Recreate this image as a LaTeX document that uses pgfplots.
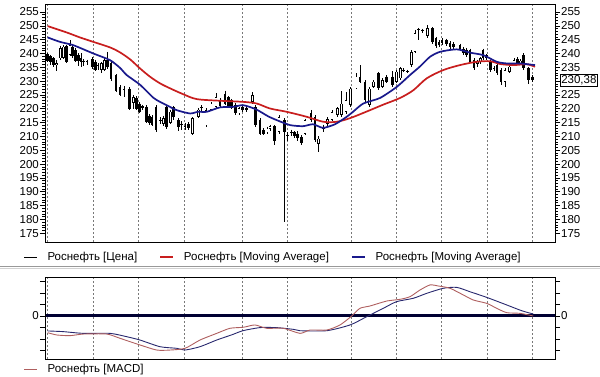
\documentclass[border=0pt]{standalone}
\usepackage{fontspec}
\setmainfont{Liberation Sans}
\usepackage{pgfplots}
\usepackage{pgfplotstable}
\pgfplotsset{compat=1.18}
\definecolor{maRed}{RGB}{200,30,30}
\definecolor{maBlue}{RGB}{25,25,140}
\definecolor{macdC}{RGB}{175,95,95}
\definecolor{sigC}{RGB}{40,40,110}
\definecolor{zeroC}{RGB}{0,0,50}
\definecolor{gridC}{RGB}{120,120,120}

\pgfplotstableread{
x h l t b d
47.7 240.3 236.8 239.7 237.3 0
50.5 239.5 236.0 239.0 237.0 0
53.2 238.6 235.0 238.2 235.8 0
56.7 237.5 233.5 236.5 235.8 1
60.5 242.8 237.8 242.0 238.2 1
63.5 243.0 238.0 242.5 238.5 1
66.5 243.2 236.5 242.6 237.0 0
70.0 244.7 239.0 243.0 239.4 1
72.8 243.5 238.5 242.5 239.2 0
75.5 242.0 237.0 241.2 237.4 0
78.5 240.0 235.6 239.4 237.4 0
81.0 240.0 235.2 238.2 237.0 0
83.8 238.0 235.3 237.4 237.0 0
87.0 237.8 236.0 237.2 236.9 1
92.7 238.6 234.5 238.0 235.0 0
95.3 237.8 233.5 237.0 234.0 0
98.0 236.4 234.2 235.8 235.4 0
101.7 237.0 232.8 236.6 234.0 1
104.8 238.3 233.6 237.6 234.0 1
107.7 240.6 234.3 237.6 235.0 0
110.9 237.0 230.0 236.4 230.6 0
116.0 232.5 226.0 232.2 226.5 0
120.0 228.5 224.5 228.0 225.0 0
124.0 228.3 224.3 227.2 226.8 1
129.3 227.8 219.5 227.3 220.0 0
133.3 225.0 219.8 224.1 222.1 1
136.2 224.5 219.5 224.0 220.0 0
139.2 222.5 218.5 221.9 219.0 0
142.7 221.5 219.5 220.9 220.4 0
146.5 221.2 214.8 220.7 215.3 0
149.2 218.0 214.3 217.5 215.0 0
152.0 217.6 213.6 217.1 214.0 0
156.0 221.2 211.5 220.7 212.2 0
160.5 217.0 214.5 216.0 215.6 1
163.6 217.5 213.8 216.5 214.5 1
166.6 221.0 212.8 220.7 213.3 0
170.5 219.6 214.5 219.0 215.0 1
173.6 221.0 216.0 220.5 217.0 0
178.3 216.6 212.0 215.8 213.3 0
181.7 215.5 212.5 214.4 214.0 0
185.0 215.0 212.2 213.8 213.4 1
188.3 215.2 212.5 214.5 213.0 0
192.3 217.0 210.6 216.5 211.0 1
198.3 220.3 216.7 219.7 217.1 1
201.2 221.2 219.2 220.6 220.2 1
206.0 220.2 213.5 219.5 214.0 1
211.0 222.5 219.2 221.9 219.7 1
216.0 225.7 220.2 224.3 220.7 1
220.0 223.8 220.4 223.2 221.0 0
225.0 226.6 221.4 225.5 221.9 0
228.4 224.6 220.5 224.2 221.0 0
231.8 223.6 219.8 223.0 220.3 0
235.4 222.0 217.8 221.3 218.3 0
239.0 220.8 217.6 220.1 218.3 1
242.2 221.5 219.0 220.8 219.6 0
246.7 221.0 218.8 220.3 219.4 0
252.3 226.0 221.8 224.9 222.5 1
255.7 221.2 213.5 220.7 214.0 0
260.0 216.5 210.5 215.9 211.0 0
263.8 213.0 210.5 212.4 211.0 0
266.9 213.5 211.0 212.8 211.5 1
270.0 214.3 212.0 213.7 212.6 1
274.3 214.2 207.0 213.7 208.5 0
279.0 217.6 211.0 217.1 211.6 1
284.3 216.5 178.9 215.9 211.6 0
287.7 211.5 208.5 210.6 210.2 0
291.5 212.5 210.0 211.5 211.1 1
294.6 212.0 209.6 211.5 210.0 0
297.8 211.8 208.5 211.0 209.3 0
301.7 210.5 206.8 209.8 207.7 0
305.0 216.4 210.6 215.9 211.0 1
311.0 219.6 215.2 218.3 215.9 0
315.0 217.6 208.1 217.1 208.6 0
318.3 210.0 204.4 209.2 207.4 1
323.3 214.3 211.6 213.2 212.8 1
327.7 217.0 213.5 216.2 214.5 1
332.0 219.5 215.5 218.9 215.9 1
337.3 220.6 217.2 220.1 217.7 1
341.7 226.3 217.2 221.9 217.7 1
346.0 226.0 218.0 223.0 219.0 1
350.7 227.8 220.8 227.3 221.3 1
356.0 232.8 227.0 231.6 227.4 1
360.0 235.8 229.3 231.6 229.8 0
365.0 230.3 222.6 229.8 223.1 0
369.3 227.8 220.8 227.3 221.3 1
373.3 230.3 227.5 229.8 228.0 1
378.3 233.3 226.9 232.8 227.4 0
382.7 231.0 227.5 230.4 228.0 1
386.7 232.2 229.3 231.6 229.8 0
392.7 233.5 228.0 231.6 228.6 0
396.7 234.0 229.3 233.4 229.8 1
400.2 235.2 230.5 234.6 231.0 1
403.6 234.6 233.4 234.1 233.8 1
407.3 234.2 232.8 233.6 233.3 0
411.3 241.2 235.2 240.6 235.8 1
415.0 248.5 240.0 247.3 240.6 1
418.6 249.3 245.0 248.8 248.5 1
422.2 249.0 247.5 248.5 248.0 0
427.6 250.3 245.6 249.2 246.3 1
432.7 249.6 243.5 249.1 244.2 0
436.0 246.0 242.0 245.6 242.8 0
439.0 244.8 242.4 244.2 243.0 0
442.0 245.5 243.0 244.9 243.7 0
446.7 245.4 242.8 244.7 243.3 0
450.0 244.5 241.8 243.9 242.3 0
453.5 244.0 241.4 243.4 242.2 0
460.0 243.6 241.2 243.0 241.8 0
463.3 242.4 239.4 241.8 240.0 0
466.7 242.0 238.6 241.4 239.3 0
470.0 241.8 236.5 241.2 237.0 0
474.0 238.2 234.0 237.6 234.6 0
477.3 237.8 235.2 237.2 236.2 1
480.2 238.8 236.3 238.2 236.8 1
483.0 241.8 237.6 241.2 238.2 0
486.7 239.8 237.6 239.3 238.2 0
490.7 237.6 233.4 237.0 234.0 0
494.0 235.5 233.6 234.7 234.3 0
497.0 236.4 232.2 235.8 232.8 0
501.0 234.6 228.5 234.0 229.8 0
505.0 234.6 228.0 234.0 229.8 1
509.3 235.8 232.8 235.2 233.4 1
514.0 238.2 235.8 237.6 236.4 1
517.3 238.6 236.0 237.9 236.4 0
520.4 238.0 235.8 237.4 236.4 1
523.6 240.0 234.0 239.4 234.6 0
528.3 235.2 229.0 234.6 230.4 0
532.7 232.2 229.8 231.6 230.38 0
}\candles

\pgfplotstableread{
x y
47.7 249.9
66.7 247.6
80 245.8
93.3 244.2
110 242.2
120 240.4
130 237.9
140 234.6
150 231.6
160 229.2
170 227.4
183 225.3
196.7 223.5
220 222.9
243 222.5
256.7 221.9
270 220.1
286.7 218.9
306.7 217.1
323.3 215.3
336.7 215.3
350 216.6
366.7 219.0
383.3 221.5
400 223.9
413.3 226.7
426.7 231.0
443.3 234.0
460 235.8
476.7 237.0
490 237.2
500 236.2
513.3 235.8
526.7 236.1
535 235.2
}\maslow

\pgfplotstableread{
x y
47.7 245.8
60 244.2
73.3 243.0
93.3 240.0
110 237.6
120 234.8
126.7 232.2
140 228.7
153.3 224.0
160 222.5
166.7 221.3
176.7 219.5
190 218.3
198 218.9
206.7 218.9
220 220.5
233.3 220.7
243.3 221.3
256 219.8
268 217.3
276.7 215.9
290 214.1
303 213.7
313 214.4
323 213.1
335 214.4
346.7 217.1
353 218.9
363.3 221.9
380 223.9
396.7 227.9
410 232.2
420 235.3
430 238.8
440 240.6
456.7 241.5
470 240.3
483.3 239.4
496.7 237.0
506.7 236.4
520 236.4
535 235.8
}\mafast

\pgfplotstableread{
x y
47.7 -1.30
63.3 -1.36
83.3 -1.51
110 -1.51
126.7 -1.80
140 -2.09
160 -2.67
176.7 -2.81
185 -2.96
200 -2.67
216.7 -2.09
233.3 -1.59
242.7 -1.28
260 -1.01
276.7 -1.01
293.3 -1.16
300 -1.28
326.7 -1.28
350 -0.78
366.7 -0.06
383.3 0.67
396.7 1.25
413.3 1.54
426.7 1.97
443.3 2.41
456.7 2.49
470 2.11
486.7 1.62
506.7 0.96
521.7 0.46
533.3 0.17
}\signal

\pgfplotstableread{
x y
47.7 -1.45
56.7 -1.65
70 -1.71
83.3 -1.57
106.7 -1.57
120 -1.94
140 -2.52
156.7 -2.96
170 -2.96
185 -2.81
200 -2.09
216.7 -1.51
230 -1.07
243.3 -0.98
255 -0.78
266.7 -1.07
283.3 -1.07
300 -1.51
310 -1.22
326.7 -1.22
340 -0.78
351.7 0.00
360 0.67
370 0.87
386.7 1.30
400 1.45
410 1.68
420 2.26
430 2.70
438.3 2.61
450 2.41
463.3 1.83
473.3 1.39
486.7 1.10
496.7 0.67
506.7 0.29
520 0.23
533.3 0.00
}\macd

\pgfplotsset{
  base/.style={
    scale only axis, width=510pt, xmin=45, xmax=555,
    axis line style={line width=0.8pt},
    tick align=outside,
    xtick={47.7,93.3,138.3,184.3,242.7,287.7,351.7,396.7,441.7,487.7,532.7},
    xticklabels={}, xtick style={draw=none},
    ytick style={black, line width=0.6pt},
    major tick length=5pt, minor tick length=2.5pt,
    tick label style={font=\fontsize{11.5}{11.5}\selectfont, inner sep=1pt},
    /pgf/number format/assume math mode=true,
  },
  grids/.style={xmajorgrids,
    grid style={gridC, dash pattern=on 2pt off 2pt, line width=0.6pt}},
  mainy/.style={height=238pt, ymin=171.8, ymax=257.9,
    ytick={175,180,...,255}, minor y tick num=4},
  macdy/.style={height=82pt, ymin=-3.74, ymax=3.39,
    ytick={-3,-2,-1,0,1,2,3}, yticklabels={,,,0,,,}},
  legstyle/.style={legend style={draw=none, fill=none, anchor=west,
      legend columns=3, font=\fontsize{11.5}{12}\selectfont,
      /tikz/every odd column/.append style={column sep=8pt},
      /tikz/every even column/.append style={column sep=20pt}},
    legend image code/.code={\draw[##1] (0pt,0pt) -- (13pt,0pt);}},
  wick/.style 2 args={forget plot, mark=none, draw=none,
    error bars/.cd, y dir=minus, y explicit, error mark=none,
    error bar style={draw=#1, line width=#2}},
}

\begin{document}
\begin{tikzpicture}
\useasboundingbox (0pt,0pt) rectangle (600pt,-376pt);

% main price panel
\begin{axis}[base, grids, mainy, legstyle, at={(45pt,-242pt)}, anchor=south west,
  ytick pos=left, yticklabel pos=left,
  legend style={at={(-0.048,-0.063)}}]
  \addplot[wick={black}{0.8pt}]
    table[x=x, y=h, y error minus expr=\thisrow{h}-\thisrow{l}] {\candles};
  \addplot[wick={black}{2.8pt}]
    table[x=x, y=t, y error minus expr=\thisrow{t}-\thisrow{b}] {\candles};
  \addplot[wick={white}{1.2pt}]
    table[x=x, y expr={\thisrow{d}>0.5 ? \thisrow{t}-0.27 : nan},
      y error minus expr={max(\thisrow{t}-\thisrow{b}-0.54,0)}] {\candles};
  \addlegendimage{black, line width=0.8pt}
  \addplot[maRed, line width=1.7pt, smooth, tension=0.5] table[x=x,y=y] {\maslow};
  \addplot[maBlue, line width=1.7pt, smooth, tension=0.4] table[x=x,y=y] {\mafast};
  \legend{Роснефть [Цена], Роснефть [Moving Average], Роснефть [Moving Average]}
\end{axis}
\begin{axis}[base, mainy, at={(45pt,-242pt)}, anchor=south west,
  ytick pos=right, yticklabel pos=right, clip=false,
  yticklabels={175,180,185,190,195,200,205,210,215,220,225,,235,240,245,250,255}]
  \node[draw=black, fill=white, inner sep=1pt, anchor=west,
    font=\fontsize{11.5}{11.5}\selectfont, line width=0.6pt]
    at (axis cs:555,230.38) [xshift=5pt] {230,38};
\end{axis}

\draw[gray!80, line width=0.8pt] (0pt,-266.5pt) -- (600pt,-266.5pt);
\draw[gray!35, line width=0.8pt] (0pt,-268.3pt) -- (600pt,-268.3pt);

% MACD panel
\begin{axis}[base, grids, macdy, legstyle, at={(45pt,-359pt)}, anchor=south west,
  ytick pos=left, yticklabel pos=left,
  legend style={at={(-0.048,-0.128)}}]
  \addplot[forget plot, zeroC, line width=3pt] coordinates {(45,0) (555,0)};
  \addplot[sigC, line width=0.9pt, smooth, tension=0.4, forget plot] table[x=x,y=y] {\signal};
  \addplot[macdC, line width=0.9pt, smooth, tension=0.4] table[x=x,y=y] {\macd};
  \legend{Роснефть [MACD]}
\end{axis}
\begin{axis}[base, macdy, at={(45pt,-359pt)}, anchor=south west,
  ytick pos=right, yticklabel pos=right]
\end{axis}
\end{tikzpicture}
\end{document}
